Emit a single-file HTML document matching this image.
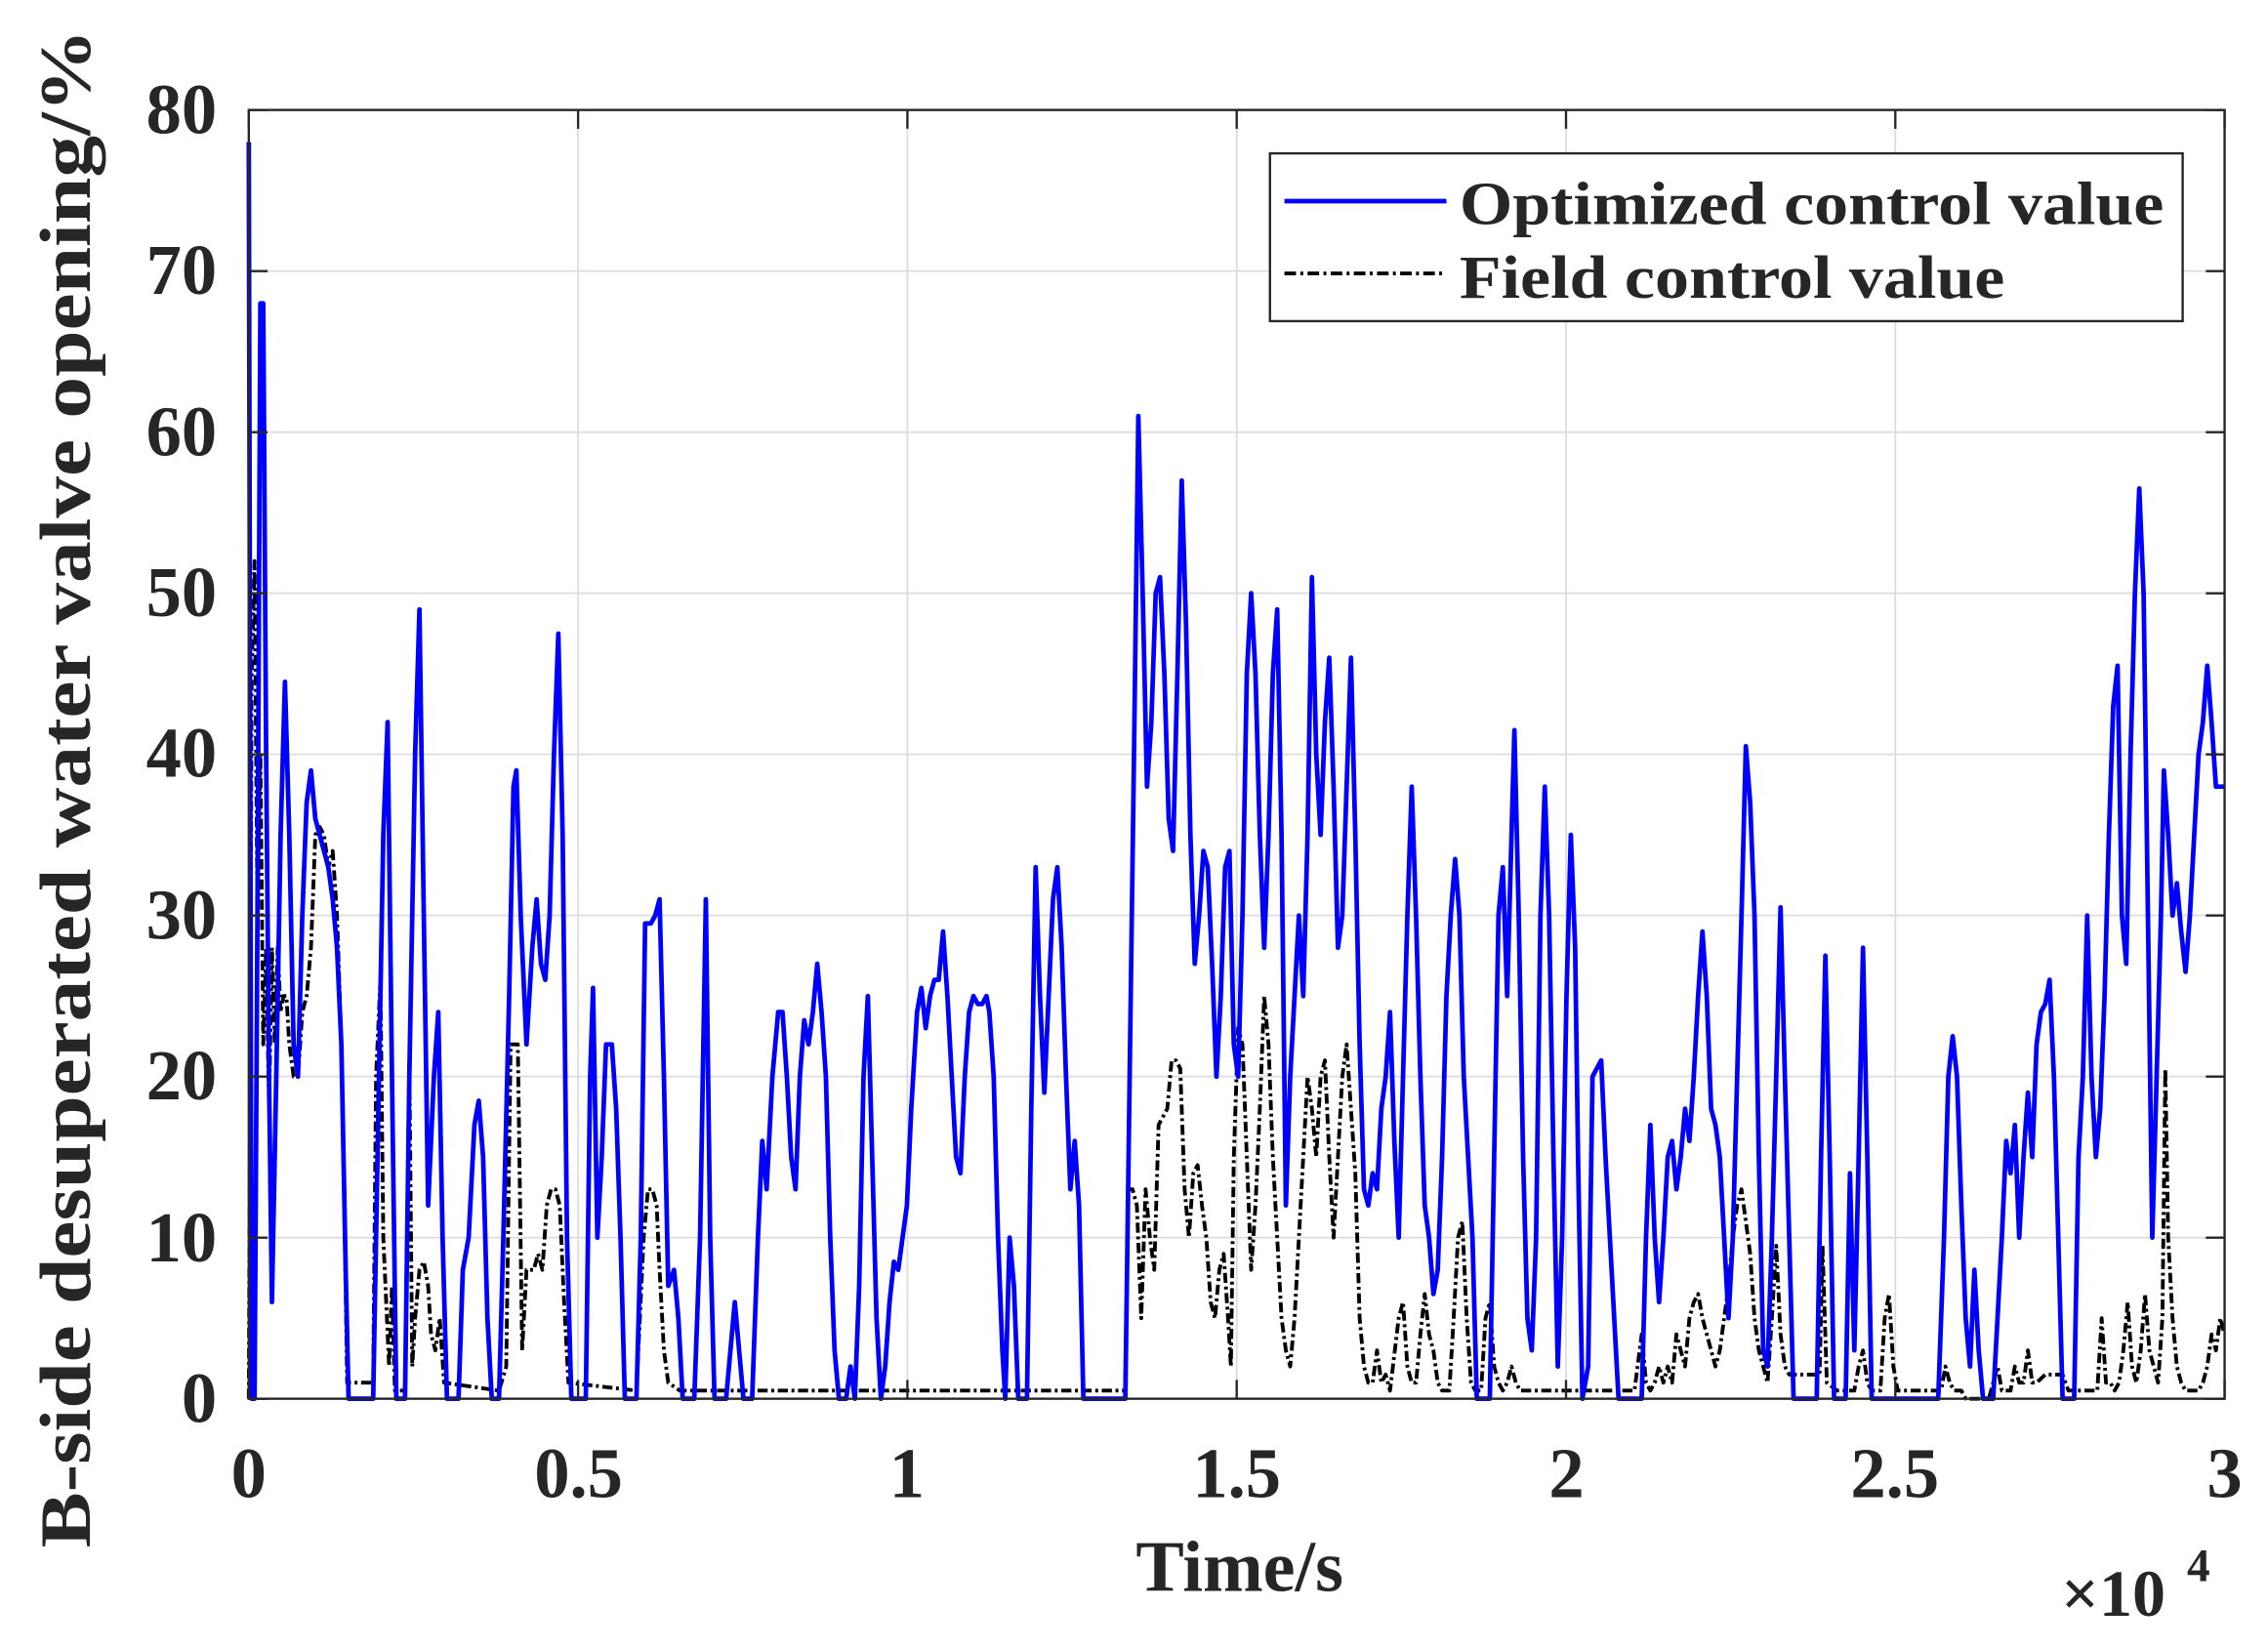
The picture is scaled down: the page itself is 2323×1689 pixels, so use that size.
<!DOCTYPE html>
<html><head><meta charset="utf-8"><style>
html,body{margin:0;padding:0;background:#fff;}
svg{display:block;}
text{font-family:"Liberation Serif","Times New Roman",serif;font-weight:bold;fill:#262626;}
</style></head><body>
<svg id="s" width="2323" height="1689" viewBox="0 0 1568 1140" xmlns="http://www.w3.org/2000/svg">
<rect x="0" y="0" width="1568" height="1140" fill="#fff"/>
<g id="grid" stroke="#dcdcdc" stroke-width="1.2"></g>
<g id="series"></g>
<rect x="172" y="76" width="1366" height="891" fill="none" stroke="#262626" stroke-width="1.6"/>
<g id="ticks" stroke="#262626" stroke-width="1.6"></g>
<g font-size="49" text-anchor="end">
<text x="150" y="983">0</text><text x="150" y="872">10</text><text x="150" y="760">20</text>
<text x="150" y="649">30</text><text x="150" y="537">40</text><text x="150" y="426">50</text>
<text x="150" y="315">60</text><text x="150" y="203">70</text><text x="150" y="92">80</text>
</g>
<g font-size="49" text-anchor="middle">
<text x="172" y="1035">0</text><text x="400" y="1035">0.5</text><text x="627" y="1035">1</text>
<text x="855" y="1035">1.5</text><text x="1083" y="1035">2</text><text x="1310" y="1035">2.5</text>
<text x="1538" y="1035">3</text>
</g>
<text x="857" y="1100" font-size="50" text-anchor="middle">Time/s</text>
<text x="1425" y="1117" font-size="46" font-weight="normal">×10</text>
<text x="1512" y="1093" font-size="32" font-weight="normal">4</text>
<text transform="translate(62,545) rotate(-90)" font-size="50" text-anchor="middle" textLength="1050" lengthAdjust="spacingAndGlyphs">B-side desuperated water valve opening/%</text>
<rect x="878" y="106" width="631" height="116" fill="#fff" stroke="#262626" stroke-width="1.6"/>
<line x1="888" y1="139" x2="1000" y2="139" stroke="#0000ff" stroke-width="3.2"/>
<line x1="888" y1="189" x2="1000" y2="189" stroke="#000" stroke-width="2.6" stroke-dasharray="8,3,2,3"/>
<text x="1009" y="155" font-size="42" textLength="487" lengthAdjust="spacingAndGlyphs">Optimized control value</text>
<text x="1009" y="206" font-size="42" textLength="377" lengthAdjust="spacingAndGlyphs">Field control value</text>
</svg>
<script>
(function(){
var NS="http://www.w3.org/2000/svg";
function el(p,n,a){var e=document.createElementNS(NS,n);for(var k in a)e.setAttribute(k,a[k]);p.appendChild(e);return e;}
var grid=document.getElementById('grid'),ticks=document.getElementById('ticks'),ser=document.getElementById('series');
for(var i=1;i<6;i++){var x=172+i*227.67;el(grid,'line',{x1:x,y1:76,x2:x,y2:967});}
for(var j=1;j<8;j++){var y=967-j*111.375;el(grid,'line',{x1:172,y1:y,x2:1538,y2:y});}
for(var i=0;i<=6;i++){var x=172+i*227.67;el(ticks,'line',{x1:x,y1:967,x2:x,y2:954});el(ticks,'line',{x1:x,y1:76,x2:x,y2:89});}
for(var j=0;j<=8;j++){var y=967-j*111.375;el(ticks,'line',{x1:172,y1:y,x2:185,y2:y});el(ticks,'line',{x1:1538,y1:y,x2:1525,y2:y});}
var blue=[172,78,174,0,176,0,178,30,180,68,182,68,184,40,186,20,188,6,191,20,194,35,197,44.5,200,35,203,22,206,20,209,30,212,37,215,39,218,36,221,35,224,34,227,33,230,31,233,28,236,22,239,8,241,0,258,0,262,20,265,35,268,42,271,20,274,0,280,0,283,20,287,40,290,49,293,30,296,12,300,20,303,24,306,10,309,0,317,0,320,8,324,10,328,17,331,18.5,334,15,337,5,340,0,345,0,348,10,352,25,355,38,357,39,360,30,364,22,368,28,371,31,374,27,377,26,380,30,383,40,386,47.5,389,35,392,10,395,0,405,0,408,20,410,25.5,413,10,416,15,419,22,423,22,426,18,429,10,432,0,440,0,443,10,446,29.5,450,29.5,453,30,456,31,459,20,462,7,466,8,469,5,472,0,480,0,484,10,488,31,491,10,494,0,502,0,505,3,508,6,511,3,514,0,520,0,524,10,527,16,530,13,534,20,538,24,541,24,544,20,547,15,550,13,553,20,556,23.5,559,22,562,24,565,27,568,24,571,20,574,10,577,3,580,0,585,0,588,2,591,0,594,7,597,20,600,25,603,15,606,5,609,0,612,2,615,6,618,8.5,621,8,624,10,627,12,630,18,634,24,637,25.5,640,23,643,25,646,26,649,26,652,29,655,25,658,20,661,15,664,14,667,20,670,24,673,25,676,24.5,679,24.5,682,25,684,24,687,20,690,10,693,3,695,0,698,10,701,7,704,0,710,0,713,18,716,33,719,25,722,19,725,25,728,31,731,33,734,28,737,20,740,13,743,16,746,12,749,0,778,0,781,20,784,40,787,61,790,50,793,38,796,42,799,50,802,51,805,45,808,36,811,34,814,45,817,57,820,48,823,35,826,27,829,30,832,34,835,33,838,27,841,20,844,25,847,33,850,34,853,22,856,20,859,30,862,45,865,50,868,45,871,35,874,28,877,35,880,45,883,49,886,35,889,12,892,20,895,25,898,30,901,25,904,35,907,51,910,40,913,35,916,42,919,46,922,38,925,28,928,30,931,38,934,46,937,35,940,22,943,13,946,12,949,14,952,13,955,18,958,20,961,24,964,16,967,10,970,20,973,30,976,38,979,30,982,20,985,12,988,10,991,6.5,994,8,997,15,1000,25,1003,30,1006,33.5,1009,30,1012,20,1015,15,1018,10,1021,0,1030,0,1033,15,1036,30,1039,33,1042,25,1045,35,1047,41.5,1050,30,1053,15,1056,5,1059,3,1062,10,1065,30,1068,38,1071,30,1074,15,1077,2,1080,10,1083,25,1086,35,1089,28,1091,15,1094,0,1098,2,1101,20,1104,20.5,1107,21,1110,15,1113,10,1116,5,1119,0,1135,0,1138,10,1141,17,1144,10,1147,6,1150,10,1153,15,1156,16,1159,13,1162,15,1165,18,1168,16,1171,20,1174,25,1177,29,1180,25,1183,18,1186,17,1189,15,1192,10,1195,5,1198,10,1201,20,1204,30,1207,40.5,1210,37,1213,30,1216,15,1219,3,1222,2,1225,10,1228,20,1231,30.5,1234,20,1237,10,1240,0,1256,0,1259,15,1262,27.5,1265,15,1268,0,1276,0,1279,14,1282,3,1285,15,1288,28,1291,15,1294,0,1340,0,1344,10,1347,20,1350,22.5,1353,20,1356,12,1359,5,1362,2,1365,8,1368,3,1371,0,1378,0,1381,5,1384,10,1387,16,1390,14,1393,17,1396,10,1399,15,1402,19,1405,15,1408,22,1411,24,1414,24.5,1417,26,1420,20,1423,10,1426,0,1434,0,1437,15,1440,20,1443,30,1446,20,1449,15,1452,18,1455,25,1458,35,1461,43,1464,45.5,1467,30,1470,27,1473,40,1476,50,1479,56.5,1482,50,1485,30,1488,10,1491,20,1494,30,1496,39,1499,35,1502,30,1505,32,1508,29,1511,26.5,1514,30,1517,35,1520,40,1523,42,1526,45.5,1529,42,1532,38,1538,38];
var black=[172,0,174,45,176,52,178,30,180,40,182,22,184,28,186,18,188,28,190,22,192,28,194,24,196,25,198,25,200,22,203,20,206,20,209,24,212,25,215,28,218,35,221,35.5,224,35,227,33,230,34,233,30,236,22,238,12,240,1,258,1,260,20,263,26,265,10,267,6,269,2,271,7,273,0.5,280,0.5,283,21,285,2,287,5,290,8,293,8.5,296,7,298,4,301,3,304,5,307,1,345,0.5,350,2,353,22,358,22,361,3,364,8,369,8,372,9,375,8,378,12,381,13,384,13,387,12,390,6,393,1,440,0.5,445,10,448,13,451,13,454,12,456,8,459,3,462,1,470,0.5,778,0.5,780,13,783,13,786,12,789,5,792,13,795,10,798,8,801,17,804,17.5,807,18,810,21,813,21,816,20.5,819,13,822,10,825,14,828,14.5,831,12,834,10,837,6,840,5,843,8,846,9,849,5,851,2,853,15,856,23,859,22,862,15,865,8,868,12,871,18,874,25,877,22,880,15,883,10,886,5,889,3,892,2,895,5,898,10,901,15,904,20,907,18,910,15,913,20,916,21,919,15,922,10,925,15,928,20,931,22,934,18,937,14,940,5,943,2,946,1,949,1,952,3,955,1,958,1.5,961,0.5,967,5,970,6,973,2,976,1,979,1,982,4,985,6.5,988,4,991,3,994,1,997,0.5,1002,0.5,1005,5,1008,10,1011,11,1014,5,1017,1,1020,0.5,1024,0.5,1027,5,1030,6,1033,2,1036,1,1039,0.5,1042,1,1045,2,1048,1,1051,0.5,1130,0.5,1135,4,1138,1,1141,0.5,1144,1,1147,2,1150,1,1153,2,1156,1,1159,4,1162,3,1165,2,1168,5,1171,6,1174,6.5,1177,5,1180,4,1183,3,1186,2,1189,3,1192,5,1195,7,1198,10,1201,12,1204,13,1207,11,1210,9,1213,5,1216,3,1219,2,1222,1,1225,5,1228,9.5,1231,4,1234,2,1237,1.5,1258,1.5,1260,9.5,1263,1,1270,0.5,1282,0.5,1285,2,1288,3,1291,1,1294,0.5,1300,0.5,1303,5,1306,6.5,1309,2,1312,0.5,1342,0.5,1345,2,1348,1,1351,0.5,1356,0.5,1359,0,1375,0,1378,1,1381,2,1384,0.5,1390,0.5,1393,2,1396,1,1399,1,1402,3,1405,1,1408,1,1414,1.5,1426,1.5,1428,1,1430,0.5,1450,0.5,1453,5,1456,1,1459,1,1462,0.5,1465,1,1468,3,1471,6,1474,2,1477,1,1480,3,1483,6.5,1486,3,1489,2,1492,1,1495,5,1497,20.5,1499,10,1502,5,1505,2,1508,1,1511,0.5,1520,0.5,1523,1,1526,2,1529,4,1532,3,1535,5,1538,4];
function pts(a){var s=[];for(var i=0;i<a.length;i+=2)s.push(a[i]+','+(967-a[i+1]*11.1375).toFixed(1));return s.join(' ');}
el(ser,'polyline',{points:pts(black),fill:'none',stroke:'#000','stroke-width':2.6,'stroke-dasharray':'7,2.5,2,2.5','stroke-linejoin':'round'});
el(ser,'polyline',{points:pts(blue),fill:'none',stroke:'#0000ff','stroke-width':3.2,'stroke-linejoin':'round'});
})();
</script>
</body></html>
